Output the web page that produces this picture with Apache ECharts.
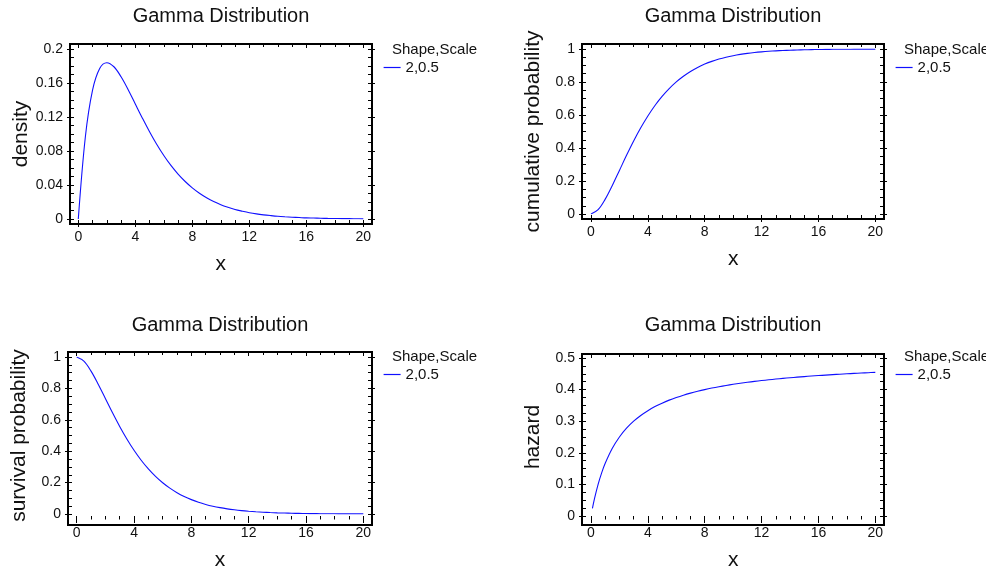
<!DOCTYPE html>
<html>
<head>
<meta charset="utf-8">
<title>Gamma Distribution</title>
<script src="https://cdn.jsdelivr.net/npm/echarts@6/dist/echarts.min.js"></script>
<style>
  html, body { margin: 0; padding: 0; background: #ffffff; }
  #chart { width: 986px; height: 572px; }
</style>
</head>
<body>
<div id="chart"></div>
<script>
// Gamma distribution, shape 2 / scale 0.5: density, CDF, survival and hazard
const chartTitle = 'Gamma Distribution';
const legendTitle = 'Shape,Scale';
const seriesName = '2,0.5';

const xValues = [0, 0.5, 1, 1.5, 2, 2.5, 3, 3.5, 4, 4.5, 5, 5.5, 6, 6.5, 7, 7.5, 8, 8.5, 9, 9.5, 10,
  10.5, 11, 11.5, 12, 12.5, 13, 13.5, 14, 14.5, 15, 15.5, 16, 16.5, 17, 17.5, 18, 18.5, 19, 19.5, 20];
const hazardX = [0.1, 0.25, 0.5, 0.75, 1, 1.5, 2, 2.5, 3, 3.5, 4, 4.5, 5, 5.5, 6, 6.5, 7, 7.5, 8, 8.5, 9,
  9.5, 10, 10.5, 11, 11.5, 12, 12.5, 13, 13.5, 14, 14.5, 15, 15.5, 16, 16.5, 17, 17.5, 18, 18.5, 19, 19.5, 20];

const densityValues = [0, 0.0974, 0.1516, 0.1771, 0.1839, 0.1791, 0.1673, 0.1521, 0.1353, 0.1186,
  0.1026, 0.0879, 0.0747, 0.0630, 0.0528, 0.0441, 0.0366, 0.0303, 0.0250, 0.0205, 0.0168, 0.0138,
  0.0112, 0.0092, 0.0074, 0.0060, 0.0049, 0.0040, 0.0032, 0.0026, 0.0021, 0.0017, 0.0013, 0.0011,
  0.0009, 0.0007, 0.0006, 0.0004, 0.0004, 0.0003, 0.0002];
const cumulativeValues = [0, 0.0265, 0.0902, 0.1734, 0.2642, 0.3554, 0.4422, 0.5221, 0.5940, 0.6575,
  0.7127, 0.7603, 0.8009, 0.8352, 0.8641, 0.8883, 0.9084, 0.9251, 0.9389, 0.9503, 0.9596, 0.9672,
  0.9734, 0.9785, 0.9826, 0.9860, 0.9887, 0.9909, 0.9927, 0.9941, 0.9953, 0.9962, 0.9970, 0.9976,
  0.9981, 0.9985, 0.9988, 0.9990, 0.9992, 0.9994, 0.9995];
const survivalValues = [1, 0.9735, 0.9098, 0.8266, 0.7358, 0.6446, 0.5578, 0.4779, 0.4060, 0.3425,
  0.2873, 0.2397, 0.1991, 0.1648, 0.1359, 0.1117, 0.0916, 0.0749, 0.0611, 0.0497, 0.0404, 0.0328,
  0.0266, 0.0215, 0.0174, 0.0140, 0.0113, 0.0091, 0.0073, 0.0059, 0.0047, 0.0038, 0.0030, 0.0024,
  0.0019, 0.0015, 0.0012, 0.0010, 0.0008, 0.0006, 0.0005];
const hazardValues = [0.0238, 0.0556, 0.1000, 0.1364, 0.1667, 0.2143, 0.2500, 0.2778, 0.3000, 0.3182,
  0.3333, 0.3462, 0.3571, 0.3667, 0.3750, 0.3824, 0.3889, 0.3947, 0.4000, 0.4048, 0.4091, 0.4130,
  0.4167, 0.4200, 0.4231, 0.4259, 0.4286, 0.4310, 0.4333, 0.4355, 0.4375, 0.4394, 0.4412, 0.4429,
  0.4444, 0.4459, 0.4474, 0.4487, 0.4500, 0.4512, 0.4524, 0.4535, 0.4545];

const xAxisMin = 0, xAxisMax = 20, xAxisStep = 4;

// y-axis ranges per panel
const yRanges = [
  { max: 0.2, step: 0.04 },
  { max: 1, step: 0.2 },
  { max: 1, step: 0.2 },
  { max: 0.5, step: 0.1 }
];

// layout: plot = data area (x 0..20, y 0..max), frame = drawn box
const panels = [
  { yName: 'density', xs: xValues, ys: densityValues,
    plot: { l: 78.3, r: 363.3, t: 49, b: 219 }, frame: { l: 70, t: 44, r: 372, b: 224 },
    titleY: 16, legendX: 383, legendY: 50 },
  { yName: 'cumulative probability', xs: xValues, ys: cumulativeValues,
    plot: { l: 591, r: 875.3, t: 49, b: 214 }, frame: { l: 582, t: 44, r: 884, b: 219 },
    titleY: 16, legendX: 895, legendY: 50 },
  { yName: 'survival probability', xs: xValues, ys: survivalValues,
    plot: { l: 76.7, r: 363.3, t: 357, b: 519 }, frame: { l: 68, t: 352, r: 372, b: 525 },
    titleY: 325, legendX: 383, legendY: 357 },
  { yName: 'hazard', xs: hazardX, ys: hazardValues,
    plot: { l: 591, r: 875.3, t: 358, b: 521 }, frame: { l: 582, t: 354, r: 884, b: 525 },
    titleY: 325, legendX: 895, legendY: 357 }
];

const FONT = "'Liberation Sans', Arial, Helvetica, sans-serif";
const INK = '#111';
const LINE_BLUE = '#1010ff';
const TICK_IN = 4;   // how far ticks reach inside the frame
const TICK_OUT = 3;  // how far major ticks poke out of the frame

const grids = [], xAxes = [], yAxes = [], series = [], legends = [], graphics = [];

panels.forEach((p, i) => {
  grids.push({
    left: p.plot.l, top: p.plot.t,
    width: p.plot.r - p.plot.l, height: p.plot.b - p.plot.t,
    containLabel: false
  });

  const offB = p.frame.b - p.plot.b, offT = p.plot.t - p.frame.t;
  const offL = p.plot.l - p.frame.l, offR = p.frame.r - p.plot.r;
  const yr = yRanges[i];

  // axis lines stay hidden (the frame is drawn separately) and must not snap to zero
  const hiddenLine = { show: false, onZero: false };
  const xBase = { gridIndex: i, type: 'value', min: xAxisMin, max: xAxisMax, interval: xAxisStep,
    splitLine: { show: false }, axisLine: hiddenLine };
  const yBase = { gridIndex: i, type: 'value', min: 0, max: yr.max, interval: yr.step,
    splitLine: { show: false }, axisLine: hiddenLine };
  // ticks start TICK_IN inside the frame and run outward across it
  const crossTicks = { show: true, inside: false, length: TICK_IN + TICK_OUT,
    lineStyle: { color: '#000', width: 1 } };
  const crossMinor = { show: true, splitNumber: 4, length: TICK_IN - 0.5,
    lineStyle: { color: '#000', width: 1 } };
  const inTicks = { show: true, inside: true, length: TICK_IN, lineStyle: { color: '#000', width: 1 } };
  const inMinor = { show: true, splitNumber: 4, length: TICK_IN - 1, lineStyle: { color: '#000', width: 1 } };

  const xMain = xAxes.length;
  xAxes.push(Object.assign({}, xBase, {
    position: 'bottom', offset: offB - TICK_IN,
    axisTick: crossTicks, minorTick: crossMinor,
    axisLabel: { show: true, margin: 10, color: INK, fontSize: 14, fontFamily: FONT },
    name: 'x', nameLocation: 'middle', nameGap: 34,
    nameTextStyle: { fontSize: 21, color: INK, fontFamily: FONT }
  }));
  xAxes.push(Object.assign({}, xBase, {
    position: 'top', offset: offT, axisTick: inTicks, minorTick: inMinor, axisLabel: { show: false }
  }));

  const yMain = yAxes.length;
  yAxes.push(Object.assign({}, yBase, {
    position: 'left', offset: offL - TICK_IN,
    axisTick: crossTicks, minorTick: crossMinor,
    axisLabel: { show: true, margin: 11, color: INK, fontSize: 14, fontFamily: FONT },
    name: p.yName, nameLocation: 'middle', nameGap: 42, nameRotate: 90,
    nameTextStyle: { fontSize: 21, color: INK, fontFamily: FONT }
  }));
  yAxes.push(Object.assign({}, yBase, {
    position: 'right', offset: offR - TICK_IN,
    axisTick: crossTicks, minorTick: crossMinor, axisLabel: { show: false }
  }));

  series.push({
    name: seriesName, type: 'line',
    xAxisIndex: xMain, yAxisIndex: yMain,
    data: p.xs.map((x, k) => [x, p.ys[k]]),
    showSymbol: false, symbol: 'none',
    smooth: 0.35,
    lineStyle: { color: LINE_BLUE, width: 1.1 },
    itemStyle: { color: LINE_BLUE },
    silent: true
  });

  legends.push({
    data: [seriesName], left: p.legendX, top: p.legendY + 10,
    itemWidth: 17, itemHeight: 12, itemGap: 0, padding: 0,
    selectedMode: false,
    itemStyle: { opacity: 0 },
    lineStyle: { color: LINE_BLUE, width: 1.2, opacity: 1 },
    textStyle: { fontSize: 15, color: INK, fontFamily: FONT }
  });

  // plot frame
  graphics.push({
    type: 'rect', silent: true, z: 10,
    shape: { x: p.frame.l, y: p.frame.t, width: p.frame.r - p.frame.l, height: p.frame.b - p.frame.t },
    style: { fill: 'none', stroke: '#000', lineWidth: 2 }
  });
  // panel title
  graphics.push({
    type: 'text', silent: true,
    x: (p.frame.l + p.frame.r) / 2, y: p.titleY,
    style: { text: chartTitle, fontSize: 20, fontFamily: FONT, fill: INK,
      textAlign: 'center', textVerticalAlign: 'middle' }
  });
  // legend heading
  graphics.push({
    type: 'text', silent: true,
    x: p.legendX + 9, y: p.legendY,
    style: { text: legendTitle, fontSize: 15, fontFamily: FONT, fill: INK,
      textAlign: 'left', textVerticalAlign: 'middle' }
  });
});

const chart = echarts.init(document.getElementById('chart'), null, { renderer: 'canvas' });
chart.setOption({
  animation: false,
  backgroundColor: '#ffffff',
  grid: grids,
  xAxis: xAxes,
  yAxis: yAxes,
  legend: legends,
  series: series,
  graphic: graphics
});
</script>
</body>
</html>
